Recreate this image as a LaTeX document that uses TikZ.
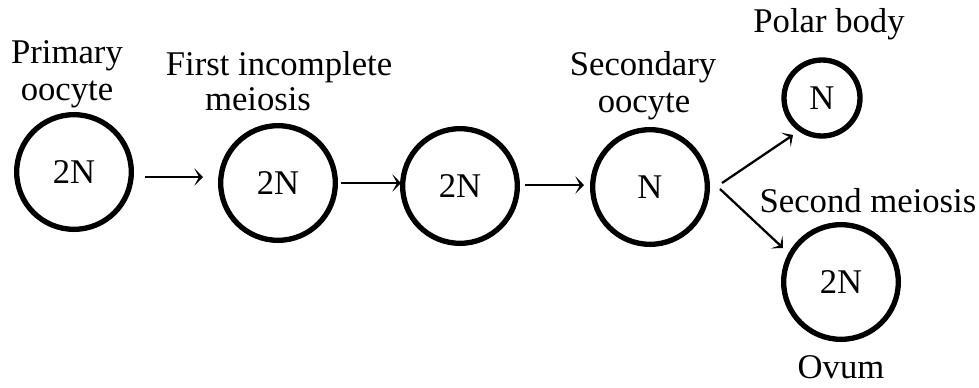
\documentclass[tikz,border=0pt]{standalone}
\usepackage{fontspec}
\setmainfont{Liberation Serif}
\usetikzlibrary{arrows.meta}
\begin{document}
\begin{tikzpicture}[x=0.75pt,y=-0.75pt,
  cell/.style={circle,draw,line width=4pt,inner sep=0pt,font=\fontsize{26}{28}\selectfont},
  big/.style={cell,minimum size=86pt},
  small/.style={cell,minimum size=57pt},
  lbl/.style={anchor=base,inner sep=0pt,font=\fontsize{26}{28}\selectfont},
  arr/.style={line width=1.7pt,-{Stealth[length=6.5pt,width=13pt,inset=3.5pt]}}]
\useasboundingbox (0,0) rectangle (979,387);

% cells
\node[big] (c1) at (74,172) {2N};
\node[big] (c2) at (278,183) {2N};
\node[big] (c3) at (460,186) {2N};
\node[big] (c4) at (650,187) {N};
\node[small] (pb) at (822,98) {N};
\node[big] (ov) at (841,282) {2N};

% labels
\node[lbl] (t1a) at (67,63) {Primary};
\node[lbl] (t1b) at (67,100) {oocyte};
\node[lbl] (t2a) at (279,75) {First incomplete};
\node[lbl] (t2b) at (258,110) {meiosis};
\node[lbl] (t4a) at (643,75) {Secondary};
\node[lbl] (t4b) at (644,112) {oocyte};
\node[lbl] (tpb) at (829,32) {Polar body};
\node[lbl] (tsm) at (868,212) {Second meiosis};
\node[lbl] (tov) at (841,378) {Ovum};

% connector end points
\coordinate (a1s) at (145,177);
\coordinate (a1e) at (203,177);
\coordinate (a2s) at (341,183);
\coordinate (a2e) at (401,183);
\coordinate (a3s) at (525,185);
\coordinate (a3e) at (584,185);
\coordinate (fu) at (722,183);
\coordinate (fue) at (793,135);
\coordinate (fl) at (720,189);
\coordinate (fle) at (783,248);

% arrows
\draw[arr] (a1s) -- (a1e);
\draw[arr] (a2s) -- (a2e);
\draw[arr] (a3s) -- (a3e);
\draw[arr] (fu) -- (fue);
\draw[arr] (fl) -- (fle);
\end{tikzpicture}
\end{document}
